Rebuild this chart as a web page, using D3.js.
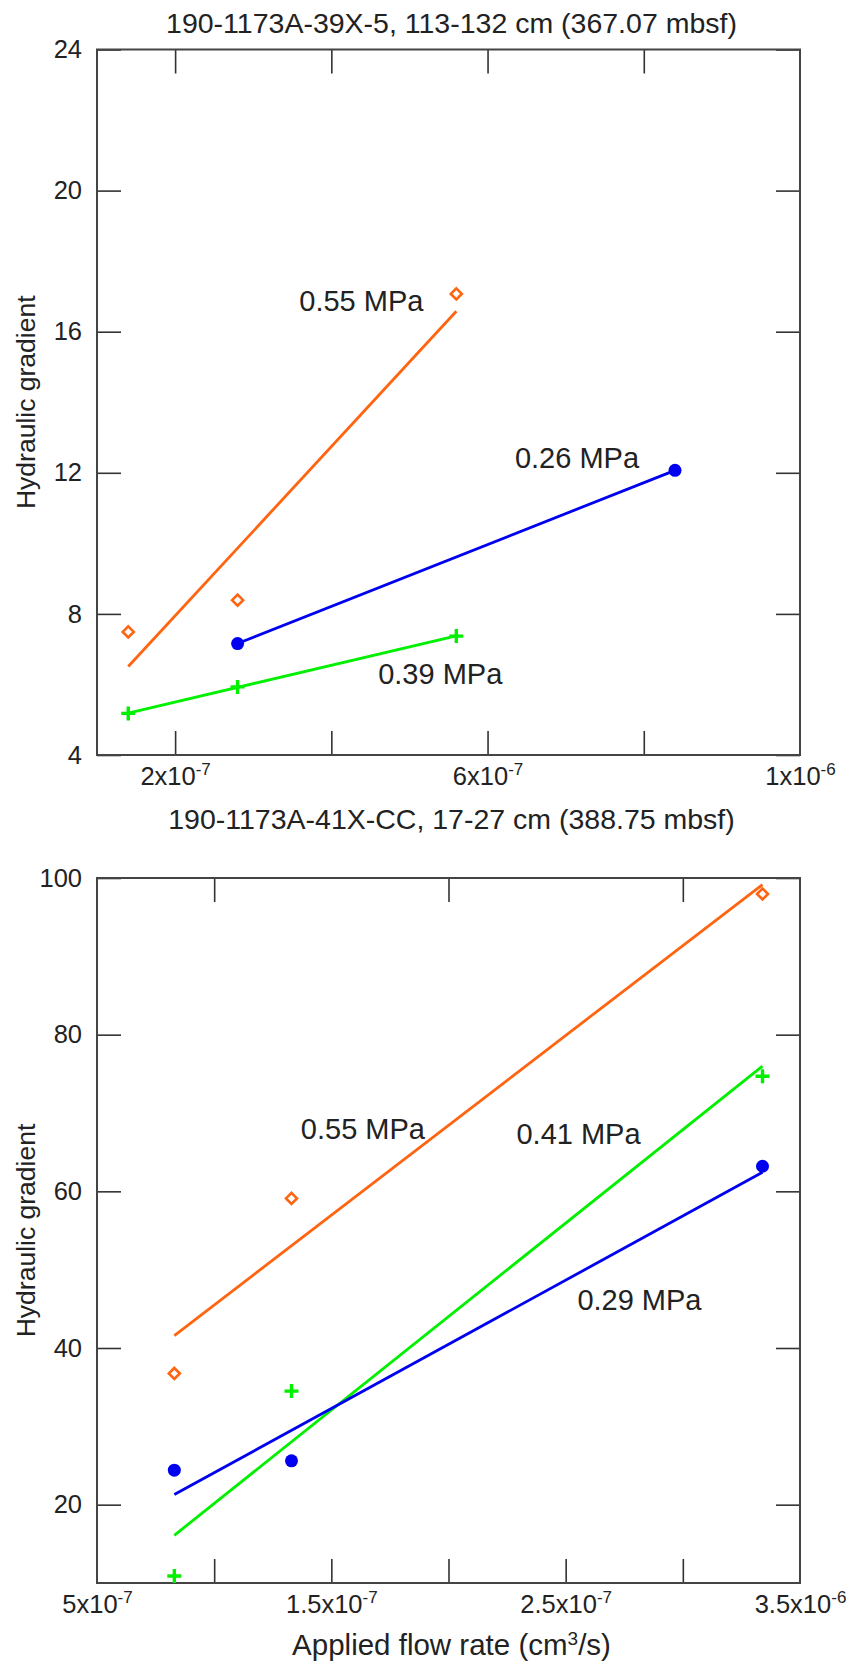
<!DOCTYPE html>
<html>
<head>
<meta charset="utf-8">
<script src="https://cdn.jsdelivr.net/npm/d3@7"></script>
<style>
  body { margin: 0; background: #fff; }
  svg text { font-family: "Liberation Sans", Arial, sans-serif; fill: #222; }
</style>
</head>
<body>
<script>
// ---- data ----
// upper panel: 190-1173A-39X-5
var topFlow = [1.4e-7, 2.8e-7, 5.6e-7];
var topGrad055 = [7.49, 8.39, 17.07];
var topGrad039 = [5.18, 5.93, 7.37];
var topFlow026 = [2.8e-7, 8.4e-7];
var topGrad026 = [7.16, 12.07];
var topYTicks = [4, 8, 12, 16, 20, 24];
var topXTicks = [2e-7, 4e-7, 6e-7, 8e-7];
var topXLabelVals = [2e-7, 6e-7, 1e-6];
var topXLabelText = [['2x10', '-7'], ['6x10', '-7'], ['1x10', '-6']];

// lower panel: 190-1173A-41X-CC
var botFlow = [8.3e-7, 1.33e-6, 3.34e-6];
var botGrad055 = [36.75, 59.1, 97.96];
var botGrad041 = [10.9, 34.5, 74.7];
var botGrad029 = [24.4, 25.6, 63.2];
var botYTicks = [20, 40, 60, 80, 100];
var botXTicksBottom = [1e-6, 1.5e-6, 2e-6, 2.5e-6, 3e-6];
var botXTicksTop = [1e-6, 2e-6, 3e-6];
var botXLabelVals = [5e-7, 1.5e-6, 2.5e-6, 3.5e-6];
var botXLabelText = [['5x10', '-7'], ['1.5x10', '-7'], ['2.5x10', '-7'], ['3.5x10', '-6']];

var colors = { orange: '#ff6410', blue: '#0000f0', green: '#00f000' };

var W = 862, H = 1665;
var left = 97, right = 800;

var svg = d3.select('body').append('svg')
	.attr('width', W)
	.attr('height', H);

// least squares line over the data range
function fitLine(xs, ys) {
	var mx = d3.mean(xs), my = d3.mean(ys);
	var sxy = d3.sum(xs, (v, i) => (v - mx) * (ys[i] - my));
	var sxx = d3.sum(xs, v => (v - mx) * (v - mx));
	var b = sxy / sxx;
	var x0 = d3.min(xs), x1 = d3.max(xs);
	return [[x0, my + b * (x0 - mx)], [x1, my + b * (x1 - mx)]];
}

function drawPanel(cfg) {
	var g = svg.append('g');
	var x = d3.scaleLinear().domain(cfg.xDomain).range([left, right]);
	var y = d3.scaleLinear().domain(cfg.yDomain).range([cfg.bottom, cfg.top]);

	g.append('text')
		.attr('x', (left + right) / 2 + 3)
		.attr('y', cfg.titleY)
		.attr('text-anchor', 'middle')
		.style('font-size', '28.5px')
		.text(cfg.title);

	// inward ticks on all four sides
	var tickStyle = sel => {
		sel.select('.domain').remove();
		sel.selectAll('line').attr('stroke', '#333').attr('stroke-width', 1.6);
	};
	g.append('g').attr('transform', `translate(0,${cfg.bottom})`)
		.call(d3.axisBottom(x).tickValues(cfg.xTicksBottom).tickSize(-24).tickFormat(''))
		.call(tickStyle);
	g.append('g').attr('transform', `translate(0,${cfg.top})`)
		.call(d3.axisTop(x).tickValues(cfg.xTicksTop).tickSize(-24).tickFormat(''))
		.call(tickStyle);
	g.append('g').attr('transform', `translate(${right},0)`)
		.call(d3.axisRight(y).tickValues(cfg.yTicks).tickSize(-24).tickFormat(''))
		.call(tickStyle);

	var yAxis = g.append('g').attr('transform', `translate(${left},0)`)
		.call(d3.axisLeft(y).tickValues(cfg.yTicks).tickSize(-24).tickPadding(15).tickFormat(d3.format('d')))
		.call(tickStyle);
	yAxis.selectAll('text')
		.attr('fill', '#222')
		.style('font-size', '25.5px')
		.style('font-family', '"Liberation Sans", Arial, sans-serif');

	// x labels with superscript exponents
	var xLab = g.append('g').attr('transform', `translate(0,${cfg.bottom})`)
		.call(d3.axisBottom(x).tickValues(cfg.xLabelVals).tickSize(0).tickFormat(''));
	xLab.select('.domain').remove();
	xLab.selectAll('.tick text').remove();
	xLab.selectAll('.tick').append('text')
		.attr('y', 30)
		.attr('text-anchor', 'middle')
		.style('font-size', '25.5px')
		.each(function(d, i) {
			var t = d3.select(this);
			t.append('tspan').text(cfg.xLabelText[i][0]);
			t.append('tspan').attr('dy', -10).style('font-size', '17px').text(cfg.xLabelText[i][1]);
		});

	g.append('rect')
		.attr('x', left)
		.attr('y', cfg.top)
		.attr('width', right - left)
		.attr('height', cfg.bottom - cfg.top)
		.attr('fill', 'none')
		.attr('stroke', '#444')
		.attr('stroke-width', 2);

	g.append('text')
		.attr('transform', `translate(35,${(cfg.top + cfg.bottom) / 2}) rotate(-90)`)
		.attr('text-anchor', 'middle')
		.style('font-size', '26.5px')
		.text('Hydraulic gradient');

	var line = d3.line().x(d => x(d[0])).y(d => y(d[1]));

	cfg.series.forEach(s => {
		g.append('path')
			.datum(s.line)
			.attr('d', line)
			.attr('fill', 'none')
			.attr('stroke', s.color)
			.attr('stroke-width', 2.8);
	});

	cfg.series.forEach(s => {
		var pts = s.xs.map((v, i) => [v, s.ys[i]]);
		var m = g.append('g').selectAll('path').data(pts).join('path')
			.attr('transform', d => `translate(${x(d[0])},${y(d[1])})`);
		if (s.marker === 'diamond') {
			m.attr('d', 'M0,-5.5L5.5,0L0,5.5L-5.5,0Z')
				.attr('fill', '#fff').attr('stroke', s.color).attr('stroke-width', 2.6);
		} else if (s.marker === 'circle') {
			m.attr('d', d3.symbol(d3.symbolCircle, Math.PI * 6.5 * 6.5)())
				.attr('fill', s.color);
		} else {
			m.attr('d', 'M-7,0H7M0,-7V7')
				.attr('fill', 'none').attr('stroke', s.color).attr('stroke-width', 3.4);
		}
	});

	cfg.notes.forEach(n => {
		g.append('text')
			.attr('x', x(n.x))
			.attr('y', y(n.y))
			.style('font-size', '29px')
			.text(n.text);
	});
}

drawPanel({
	title: '190-1173A-39X-5, 113-132 cm (367.07 mbsf)',
	titleY: 33,
	top: 49.5,
	bottom: 755,
	xDomain: [1e-7, 1e-6],
	yDomain: [4, 24],
	yTicks: topYTicks,
	xTicksBottom: topXTicks,
	xTicksTop: topXTicks,
	xLabelVals: topXLabelVals,
	xLabelText: topXLabelText,
	series: [
		{ xs: topFlow, ys: topGrad055, color: colors.orange, marker: 'diamond', line: fitLine(topFlow, topGrad055) },
		{ xs: topFlow026, ys: topGrad026, color: colors.blue, marker: 'circle', line: fitLine(topFlow026, topGrad026) },
		{ xs: topFlow, ys: topGrad039, color: colors.green, marker: 'plus', line: fitLine(topFlow, topGrad039) }
	],
	notes: [
		{ text: '0.55 MPa', x: 3.59e-7, y: 16.59 },
		{ text: '0.26 MPa', x: 6.35e-7, y: 12.13 },
		{ text: '0.39 MPa', x: 4.6e-7, y: 6.01 }
	]
});

drawPanel({
	title: '190-1173A-41X-CC, 17-27 cm (388.75 mbsf)',
	titleY: 829,
	top: 878,
	bottom: 1583,
	xDomain: [5e-7, 3.5e-6],
	yDomain: [10, 100],
	yTicks: botYTicks,
	xTicksBottom: botXTicksBottom,
	xTicksTop: botXTicksTop,
	xLabelVals: botXLabelVals,
	xLabelText: botXLabelText,
	series: [
		{ xs: botFlow, ys: botGrad055, color: colors.orange, marker: 'diamond', line: fitLine(botFlow, botGrad055) },
		{ xs: botFlow, ys: botGrad041, color: colors.green, marker: 'plus', line: fitLine(botFlow, botGrad041) },
		{ xs: botFlow, ys: botGrad029, color: colors.blue, marker: 'circle', line: fitLine(botFlow, botGrad029) }
	],
	notes: [
		{ text: '0.55 MPa', x: 1.37e-6, y: 66.7 },
		{ text: '0.41 MPa', x: 2.29e-6, y: 66.1 },
		{ text: '0.29 MPa', x: 2.55e-6, y: 44.9 }
	]
});

svg.append('text')
	.attr('x', (left + right) / 2 + 3)
	.attr('y', 1655)
	.attr('text-anchor', 'middle')
	.style('font-size', '29.5px')
	.call(t => {
		t.append('tspan').text('Applied flow rate (cm');
		t.append('tspan').attr('dy', -10).style('font-size', '19px').text('3');
		t.append('tspan').attr('dy', 10).text('/s)');
	});
</script>
</body>
</html>
